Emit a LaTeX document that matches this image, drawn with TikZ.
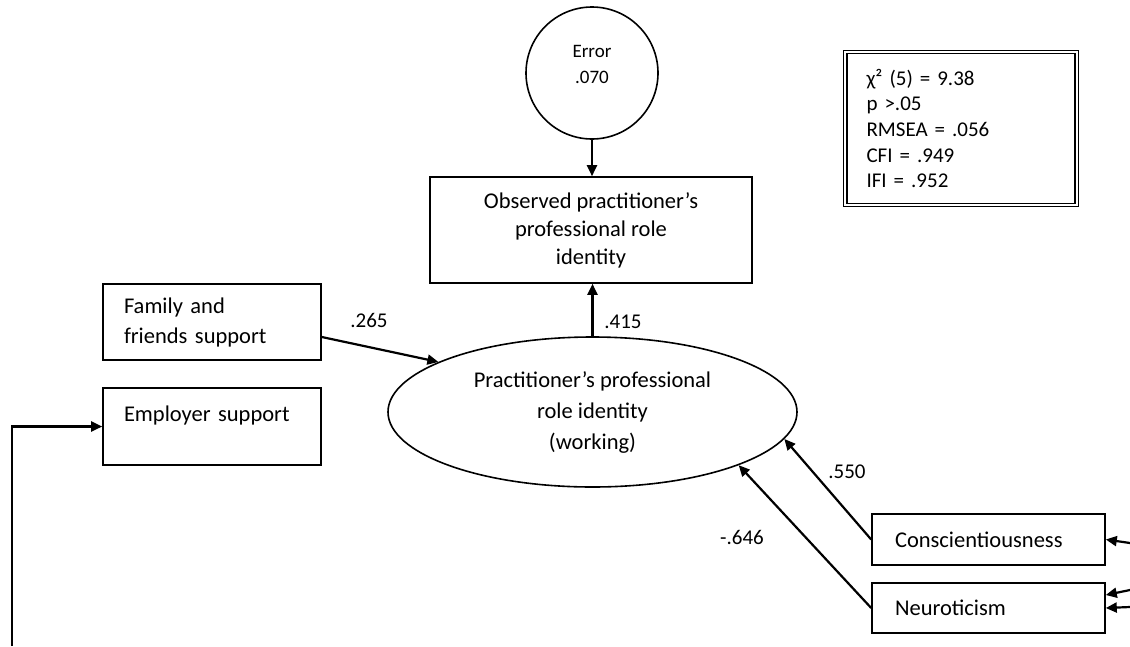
\documentclass[tikz,border=0pt]{standalone}
\usepackage{fontspec}
\setmainfont{Carlito}
\usetikzlibrary{arrows.meta,shapes.geometric}

\begin{document}
\begin{tikzpicture}[x=1pt,y=-1pt]
  \tikzstyle{box}     = [rectangle,draw=black,line width=1.6pt,inner sep=0pt,font=\fontsize{22.5}{28}\selectfont]
  \tikzstyle{leftbox} = [box,align=left,inner xsep=21pt]
  \tikzstyle{latent}  = [ellipse,draw=black,line width=1.6pt,inner sep=0pt,align=center,font=\fontsize{22.5}{31}\selectfont]
  \tikzstyle{errorV}  = [circle,draw=black,line width=1.6pt,inner sep=0pt,align=center,font=\fontsize{19}{26}\selectfont]
  \tikzstyle{fitbox}  = [rectangle,draw=black,double,double distance=2pt,line width=1.3pt,inner sep=0pt,align=left,font=\fontsize{21}{25.7}\selectfont]
  \tikzstyle{coef}    = [inner sep=0pt,font=\fontsize{21}{25}\selectfont]
  \tikzstyle{sec}     = [line width=2.2pt,-{Triangle[length=11pt,width=10pt]}]
  \useasboundingbox (0,0) rectangle (1130,646);
  % measurement part
  \path (592, 73) node[errorV,minimum size=132pt,text depth=18pt](err) {Error\\.070};
  \path (591,230) node[box,minimum width=322pt,minimum height=106pt,align=center](obs) {Observed practitioner’s\\professional role\\identity};
  \path (592.5,412) node[latent,minimum width=409pt,minimum height=150pt](prid) {Practitioner’s professional\\role identity\\(working)};
  % predictors
  \path (212,322) node[leftbox,minimum width=218pt,minimum height=76pt,text width=176pt,font=\fontsize{22.5}{30}\selectfont](fam) {Family and\\friends support};
  \path (212,426.5) node[leftbox,minimum width=218pt,minimum height=77pt,text width=176pt,text depth=26pt](emp) {Employer support};
  \path (988.5,539.5) node[leftbox,minimum width=233pt,minimum height=51pt,text width=187pt,inner xsep=23pt](con) {Conscientiousness};
  \path (988.5,608) node[leftbox,minimum width=233pt,minimum height=50pt,text width=187pt,inner xsep=23pt](neu) {Neuroticism};
  % fit indices
  \path (961,128.5) node[fitbox,minimum width=231.5pt,minimum height=153pt,text width=189pt](fit) {χ² (5) = 9.38\\p >.05\\RMSEA = .056\\CFI = .949\\IFI = .952};
  % coefficients
  \path (369,320) node[coef](c265) {.265};
  \path (623,322) node[coef](c415) {.415};
  \path (847,472) node[coef](c550) {.550};
  \path (742,537) node[coef](c646) {-.646};
  % free ends
  \coordinate (lft) at (12,646);
  \coordinate (rc1) at (1130,543);
  \coordinate (rn1) at (1130,590);
  \coordinate (rn2) at (1130,607);
  \draw[sec] (err.south) -- (err.south |- obs.north);
  \draw[sec] (prid.north) -- (prid.north |- obs.south);
  \draw[sec] ([yshift=-15pt]fam.east) -- (prid.162);
  \draw[sec] (con.west) -- (prid.-8);
  \draw[sec] (neu.west) -- (prid.-20);
  \draw[sec] (lft) |- (emp.west);
  \draw[sec] (rc1) -- (con.east);
  \draw[sec] (rn1) -- ([yshift=13pt]neu.east);
  \draw[sec] (rn2) -- (neu.east);
\end{tikzpicture}
\end{document}
